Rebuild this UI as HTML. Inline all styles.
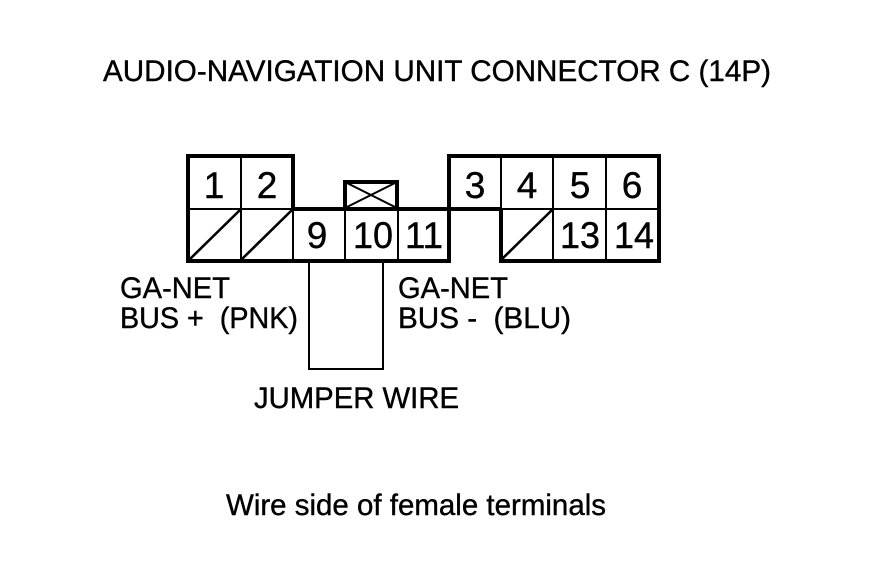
<!DOCTYPE html>
<html><head><meta charset="utf-8"><style>
html,body{margin:0;padding:0;background:#fff;width:880px;height:580px;overflow:hidden}
svg{display:block}
text{font-family:"Liberation Sans",sans-serif;fill:#000;stroke:#000;stroke-width:.4px}
.d{font-size:37px}
.l{font-size:30px}
</style></head><body>
<svg width="880" height="580" viewBox="0 0 880 580" xmlns="http://www.w3.org/2000/svg">
<rect width="880" height="580" fill="#fff"/>
<g fill="none" stroke="#000" stroke-width="2">
<path d="M241 156V260M189 209H293"/>
<path d="M293 209V260M345 209V260M398 209V260"/>
<path d="M501 156V209M553 156V260M606 156V260M501 209H659"/>
<path d="M345 182L397 208M397 182L345 208"/>
<path d="M309 262V369H383V262"/>
</g>
<path d="M189 260L241 209M241 260L293 209M501 260L553 209" fill="none" stroke="#000" stroke-width="2.6"/>
<g fill="none" stroke="#000" stroke-width="4" stroke-linejoin="miter">
<path d="M293 209V156H188V261H449V156H659V261H501V209"/>
<path d="M293 209H501"/>
<path d="M345 209V182H397V209"/>
</g>
<text class="d" x="214" y="198" text-anchor="middle">1</text>
<text class="d" x="267" y="198" text-anchor="middle">2</text>
<text class="d" x="475" y="198" text-anchor="middle">3</text>
<text class="d" x="527" y="198" text-anchor="middle">4</text>
<text class="d" x="580" y="198" text-anchor="middle">5</text>
<text class="d" x="632" y="198" text-anchor="middle">6</text>
<text class="d" x="317" y="248" text-anchor="middle">9</text>
<text class="d" x="373" y="248" text-anchor="middle" textLength="40" lengthAdjust="spacingAndGlyphs">10</text>
<text class="d" x="424" y="248" text-anchor="middle" textLength="38" lengthAdjust="spacingAndGlyphs">11</text>
<text class="d" x="580" y="248" text-anchor="middle" textLength="40" lengthAdjust="spacingAndGlyphs">13</text>
<text class="d" x="634" y="248" text-anchor="middle" textLength="40" lengthAdjust="spacingAndGlyphs">14</text>
<text class="l" x="103" y="81" textLength="668" lengthAdjust="spacingAndGlyphs">AUDIO-NAVIGATION UNIT CONNECTOR C (14P)</text>
<text class="l" x="120" y="298" textLength="110" lengthAdjust="spacingAndGlyphs">GA-NET</text>
<text class="l" x="120" y="328" textLength="178" lengthAdjust="spacingAndGlyphs" xml:space="preserve">BUS +  (PNK)</text>
<text class="l" x="398" y="298" textLength="110" lengthAdjust="spacingAndGlyphs">GA-NET</text>
<text class="l" x="398" y="328" textLength="173" lengthAdjust="spacingAndGlyphs" xml:space="preserve">BUS -  (BLU)</text>
<text class="l" x="254" y="408" textLength="205" lengthAdjust="spacingAndGlyphs">JUMPER WIRE</text>
<text class="l" x="226" y="515" textLength="380" lengthAdjust="spacingAndGlyphs">Wire side of female terminals</text>
</svg>
</body></html>
